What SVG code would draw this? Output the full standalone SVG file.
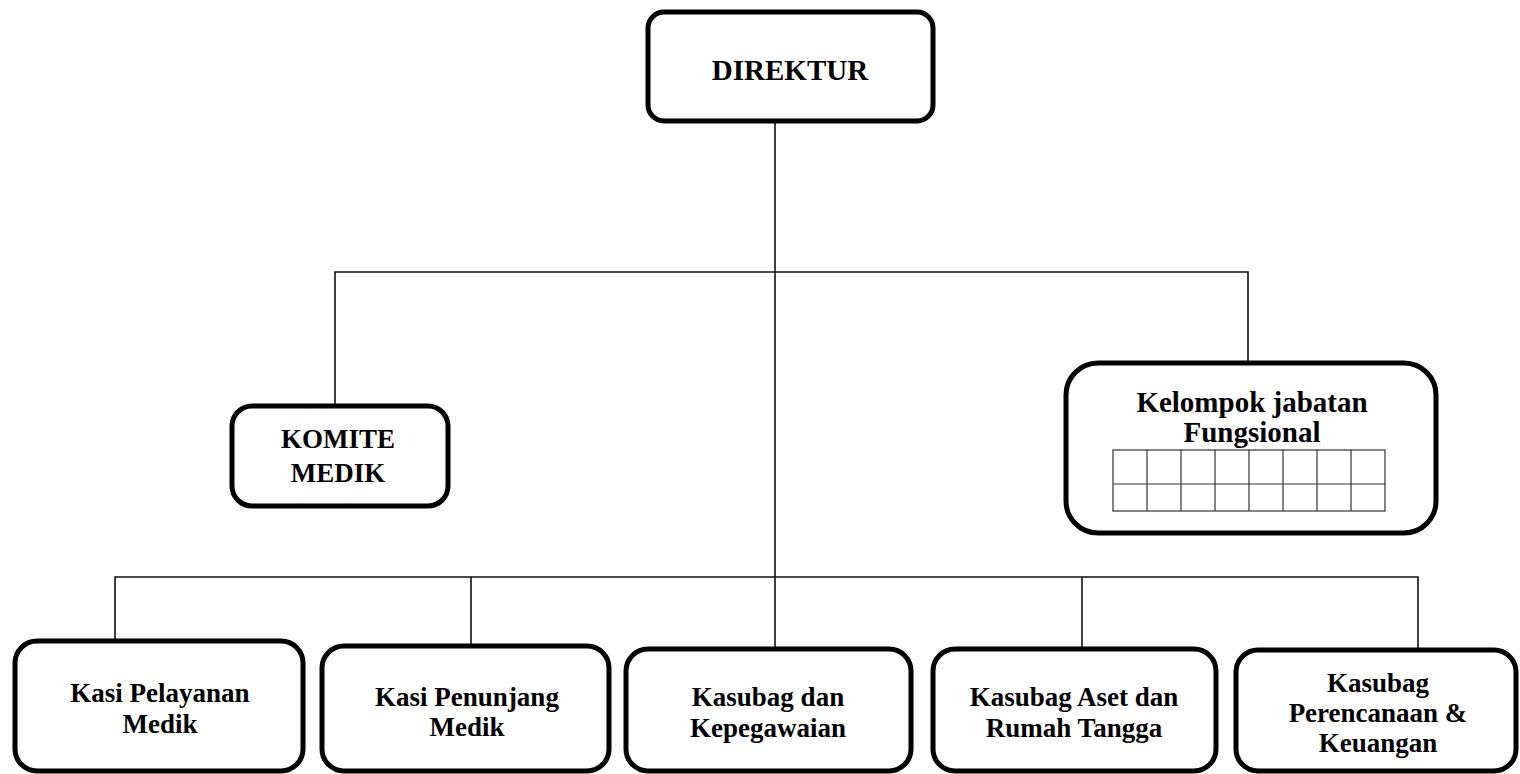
<svg xmlns="http://www.w3.org/2000/svg" width="1520" height="774" viewBox="0 0 1520 774">
  <style>
    .box { fill: #ffffff; stroke: #000000; stroke-width: 5; }
    .lbl { font-family: "Liberation Serif", "Times New Roman", serif; font-weight: 700; fill: #000000; text-anchor: middle; }
    .big { font-size: 29px; }
    .mid { font-size: 27px; }
    .link { fill: none; stroke: #111111; stroke-width: 1.6; }
    .grid { fill: none; stroke: #333333; stroke-width: 1.2; }
  </style>
  <rect width="1520" height="774" fill="#ffffff"/>

  <!-- connectors -->
  <g id="connectors" class="link">
    <line x1="775" y1="121" x2="775" y2="649"/>
    <polyline points="335,406 335,272 1248,272 1248,363"/>
    <polyline points="115,641 115,577 1418,577 1418,650"/>
    <line x1="471" y1="577" x2="471" y2="646"/>
    <line x1="1082" y1="577" x2="1082" y2="649"/>
  </g>

  <g id="direktur">
    <rect class="box" x="648" y="12" width="285" height="109" rx="16"/>
    <text class="lbl big" x="790" y="80">DIREKTUR</text>
  </g>

  <g id="komite-medik">
    <rect class="box" x="232" y="406" width="216" height="100" rx="20"/>
    <text class="lbl mid" x="338" y="448">KOMITE</text>
    <text class="lbl mid" x="338" y="482">MEDIK</text>
  </g>

  <g id="kelompok-fungsional">
    <rect class="box" x="1066" y="363" width="370" height="170" rx="32"/>
    <text class="lbl big" x="1252" y="412">Kelompok jabatan</text>
    <text class="lbl big" x="1252" y="442">Fungsional</text>
    <g class="grid">
      <rect x="1113" y="450" width="272" height="61"/>
      <line x1="1113" y1="484" x2="1385" y2="484"/>
      <line x1="1147" y1="450" x2="1147" y2="511"/>
      <line x1="1181" y1="450" x2="1181" y2="511"/>
      <line x1="1215" y1="450" x2="1215" y2="511"/>
      <line x1="1249" y1="450" x2="1249" y2="511"/>
      <line x1="1283" y1="450" x2="1283" y2="511"/>
      <line x1="1317" y1="450" x2="1317" y2="511"/>
      <line x1="1351" y1="450" x2="1351" y2="511"/>
    </g>
  </g>

  <g id="kasi-pelayanan-medik">
    <rect class="box" x="15" y="641" width="288" height="130" rx="22"/>
    <text class="lbl mid" x="160" y="702">Kasi Pelayanan</text>
    <text class="lbl mid" x="160" y="733">Medik</text>
  </g>

  <g id="kasi-penunjang-medik">
    <rect class="box" x="322" y="646" width="287" height="125" rx="22"/>
    <text class="lbl mid" x="467" y="706">Kasi Penunjang</text>
    <text class="lbl mid" x="467" y="736">Medik</text>
  </g>

  <g id="kasubag-kepegawaian">
    <rect class="box" x="626" y="649" width="285" height="122" rx="22"/>
    <text class="lbl mid" x="768" y="706">Kasubag dan</text>
    <text class="lbl mid" x="768" y="737">Kepegawaian</text>
  </g>

  <g id="kasubag-aset">
    <rect class="box" x="933" y="649" width="283" height="122" rx="22"/>
    <text class="lbl mid" x="1074" y="706">Kasubag Aset dan</text>
    <text class="lbl mid" x="1074" y="737">Rumah Tangga</text>
  </g>

  <g id="kasubag-perencanaan">
    <rect class="box" x="1236" y="650" width="280" height="121" rx="22"/>
    <text class="lbl mid" x="1378" y="692">Kasubag</text>
    <text class="lbl mid" x="1378" y="722">Perencanaan &amp;</text>
    <text class="lbl mid" x="1378" y="752">Keuangan</text>
  </g>
</svg>
